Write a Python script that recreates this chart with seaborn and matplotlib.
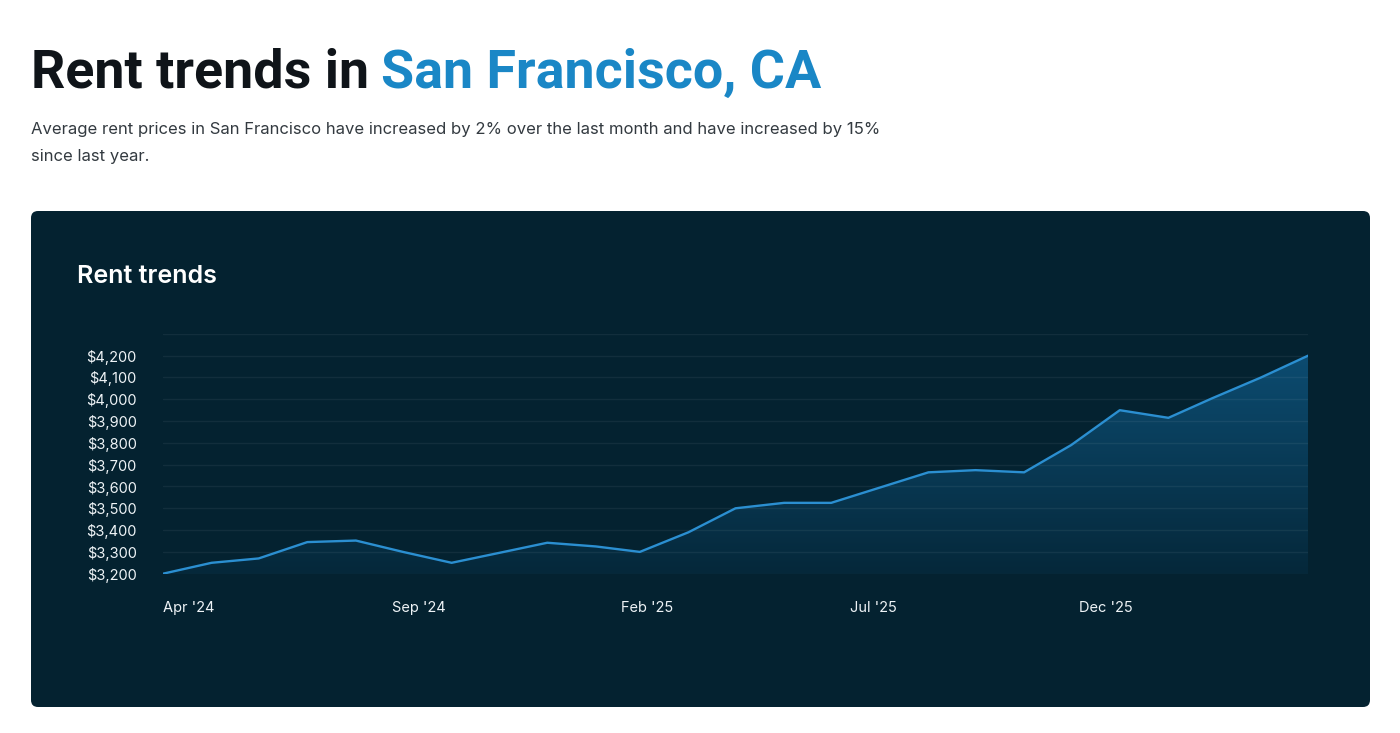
import numpy as np
import pandas as pd
import seaborn as sns
import matplotlib.pyplot as plt
import matplotlib.dates as mdates
from matplotlib.patches import FancyBboxPatch
from matplotlib.colors import LinearSegmentedColormap
from matplotlib.ticker import FuncFormatter

# monthly average rent, Apr 2024 - Apr 2026
months = pd.date_range('2024-04-30', periods=25, freq='ME')
rent = [3200, 3250, 3270, 3345, 3352, 3300, 3250, 3295, 3342, 3325,
        3300, 3390, 3500, 3525, 3525, 3595, 3665, 3675, 3665, 3790,
        3950, 3915, 4005, 4100, 4200]
y_ticks = list(range(3200, 4301, 100))

bg = '#042230'
line_col = '#2b8fd1'

sns.set_style('white')
plt.rcParams['font.family'] = ['Inter', 'DejaVu Sans']

fig = plt.figure(figsize=(14, 7.33), dpi=100)
fig.patch.set_facecolor('white')
W, H = 1400, 733

def fx(px):
    return px / W

def fy(py):
    return 1 - py / H

# header
t1 = fig.text(fx(31), fy(88), 'Rent trends in', fontsize=38.8, fontweight='bold',
              color='#0f1419', va='baseline', family=['Roboto', 'DejaVu Sans'])
fig.canvas.draw()
r = t1.get_window_extent().x1
fig.text((r + 12) / W, fy(88), 'San Francisco, CA', fontsize=38.8, fontweight='bold',
         color='#1a87c6', va='baseline', family=['Roboto', 'DejaVu Sans'])
fig.text(fx(31), fy(134), 'Average rent prices in San Francisco have increased by 2% over the last month and have increased by 15%',
         fontsize=12, color='#333a40', va='baseline')
fig.text(fx(31), fy(161), 'since last year.', fontsize=12, color='#333a40', va='baseline')

# dark card
card = FancyBboxPatch((fx(31), fy(707)), fx(1370) - fx(31), fy(211) - fy(707),
                      boxstyle='round,pad=0,rounding_size=0.005',
                      transform=fig.transFigure, facecolor=bg, edgecolor='none',
                      zorder=-1, mutation_aspect=W / H)
fig.patches.append(card)
fig.text(fx(77), fy(283), 'Rent trends', fontsize=18, fontweight='semibold',
         color='white', va='baseline')

ax = fig.add_axes([fx(163), fy(573.7), fx(1308) - fx(163), fy(333.9) - fy(573.7)])
ax.set_zorder(2)
ax.set_facecolor(bg)
df = pd.DataFrame({'month': months, 'rent': rent})
sns.lineplot(data=df, x='month', y='rent', ax=ax, color=line_col, linewidth=1.7, zorder=4)

x0, x1 = mdates.date2num(months[0]), mdates.date2num(months[-1])

# gradient fill under the line
grad = np.linspace(0, 1, 256).reshape(-1, 1)
cmap = LinearSegmentedColormap.from_list('fill', ['#05283a', '#0d4f76'])
im = ax.imshow(grad, extent=[x0, x1, 3200, 4300], origin='lower', aspect='auto',
               cmap=cmap, zorder=1)
poly = ax.fill_between(mdates.date2num(months), rent, 3200, alpha=0)
im.set_clip_path(poly.get_paths()[0], transform=ax.transData)
ax.set_xlim(x0, x1)
ax.set_ylim(3200, 4300)

ax.set_yticks(y_ticks)
ax.yaxis.set_major_formatter(FuncFormatter(lambda v, p: '' if v > 4200 else f'${v:,.0f}'))
ax.set_xticks(np.linspace(x0, x1, 6)[:-1])
ax.xaxis.set_major_formatter(mdates.DateFormatter("%b '%y"))
for lab in ax.get_xticklabels():
    lab.set_ha('left')
ax.tick_params(axis='both', length=0, colors='#eef3f6', labelsize=10.5)
ax.tick_params(axis='y', pad=19)
ax.tick_params(axis='x', pad=20)
ax.set_axisbelow(False)
ax.yaxis.grid(True, color='#ffffff', alpha=0.06, linewidth=1.0)
ax.xaxis.grid(False)
for s in ax.spines.values():
    s.set_visible(False)
ax.set_xlabel('')
ax.set_ylabel('')

fig.savefig('out.png', dpi=100, facecolor='white')
